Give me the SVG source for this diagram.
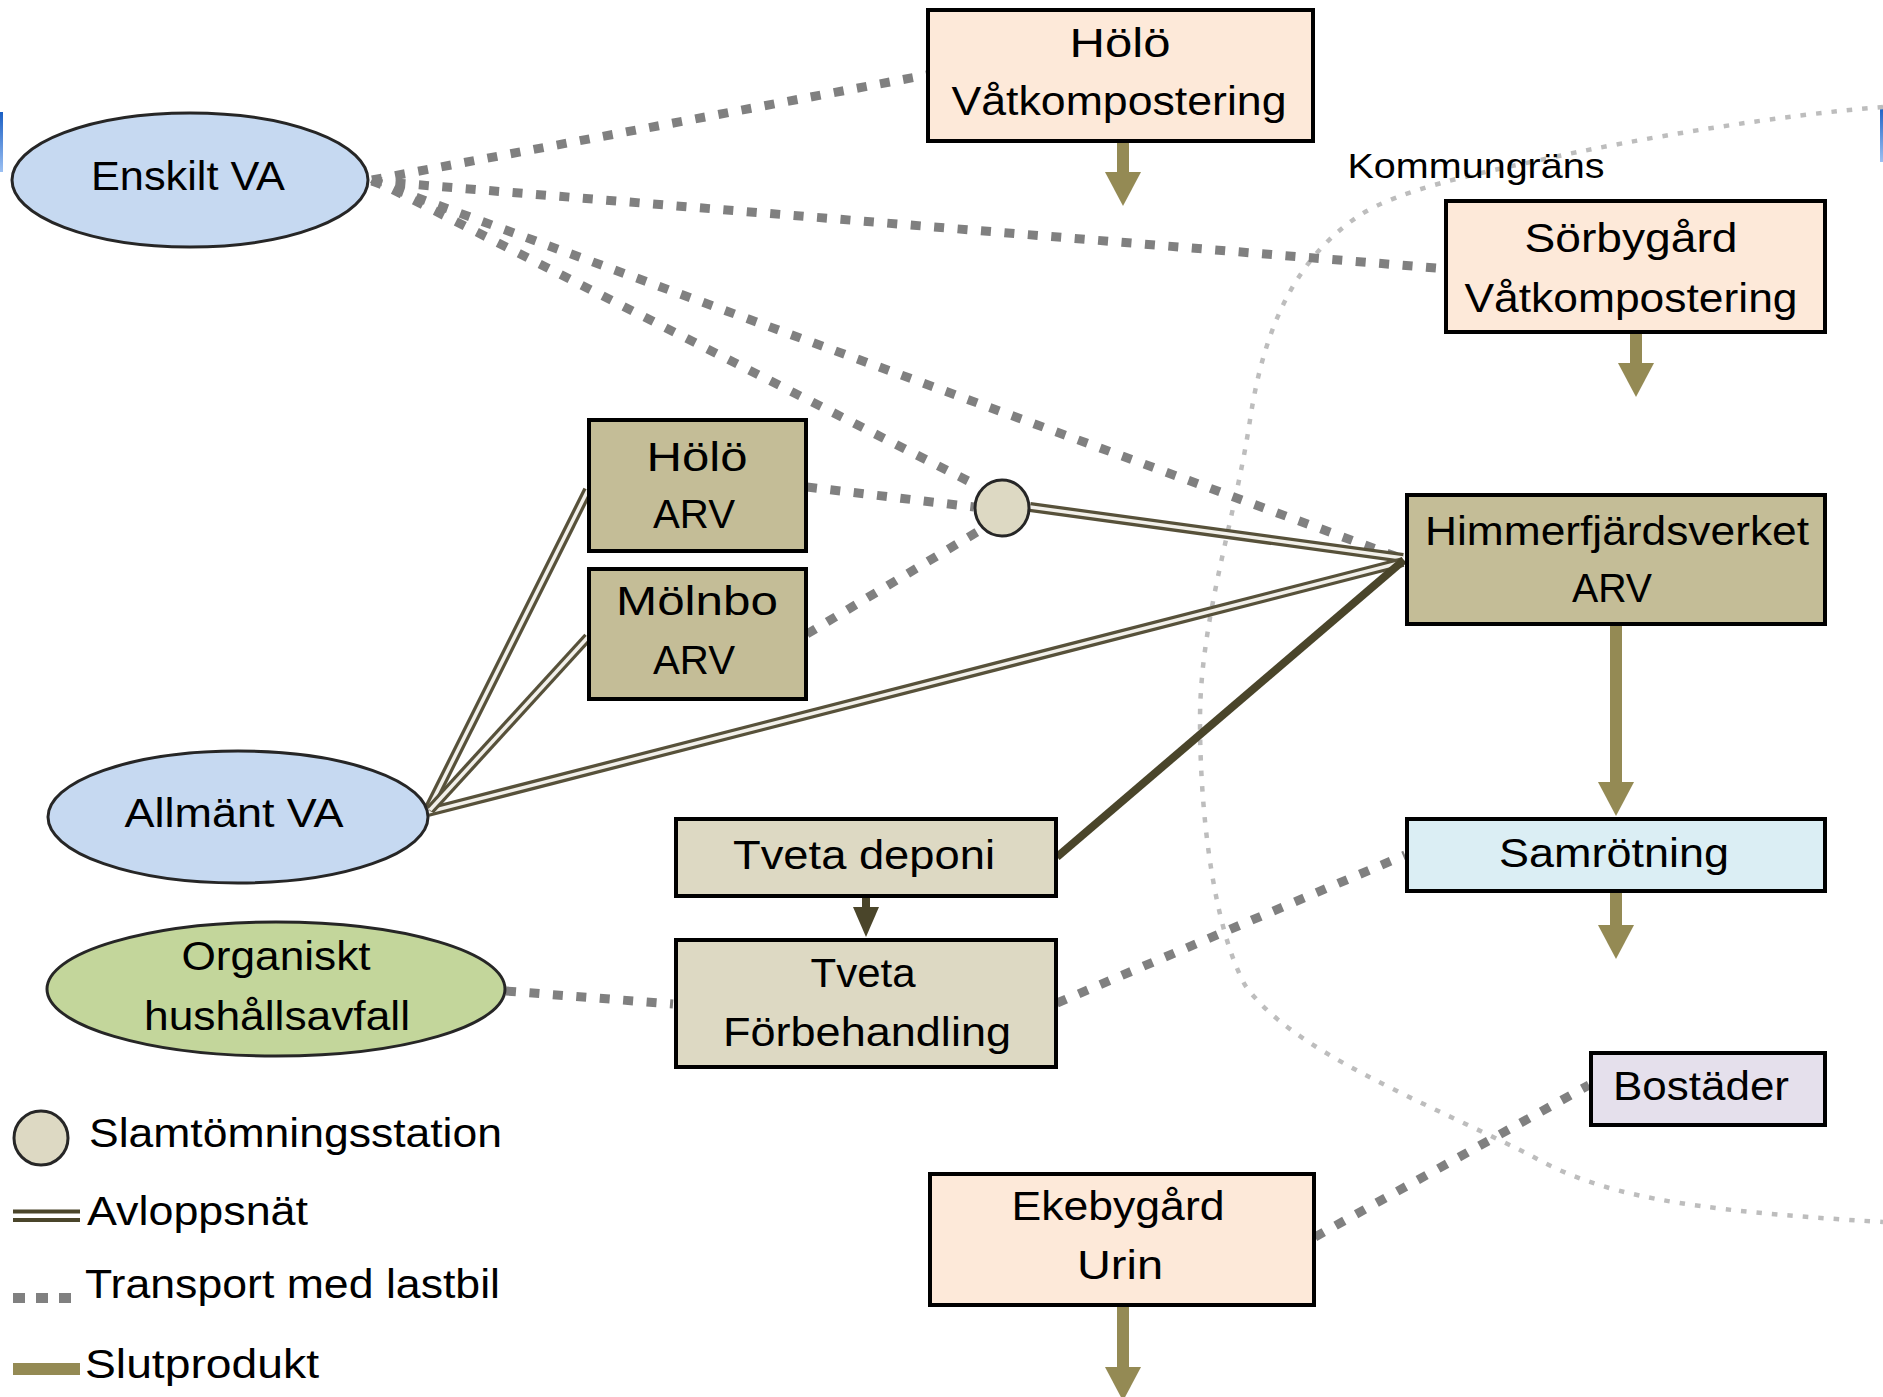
<svg xmlns="http://www.w3.org/2000/svg" width="1883" height="1397" viewBox="0 0 1883 1397">
<defs>
<style>
.box{stroke:#000;stroke-width:4}
.ell{stroke:#262626;stroke-width:3}
.t{font-family:"Liberation Sans",Arial,sans-serif;font-size:40px;fill:#000;text-anchor:middle}
.lg{font-family:"Liberation Sans",Arial,sans-serif;font-size:40px;fill:#000;text-anchor:start}
.truck{fill:none;stroke:#808080;stroke-width:9;stroke-dasharray:10 13.5}
.po{fill:none;stroke:#57513a;stroke-width:10}
.pi{fill:none;stroke:#f2f0ea;stroke-width:3.5}
.prod{stroke:#948a54;stroke-width:12;marker-end:url(#olive)}
.peach{fill:#fde9d9}
.arv{fill:#c4bd97}
.tveta{fill:#ddd9c3}
</style>
<marker id="olive" markerUnits="userSpaceOnUse" viewBox="0 0 34 36" markerWidth="34" markerHeight="36" refX="0" refY="18" orient="auto">
<path d="M0,0 L34,18 L0,36 z" fill="#948a54"/>
</marker>
<marker id="dark" markerUnits="userSpaceOnUse" viewBox="0 0 30 26" markerWidth="30" markerHeight="26" refX="0" refY="13" orient="auto">
<path d="M0,0 L30,13 L0,26 z" fill="#4a452a"/>
</marker>
<linearGradient id="blue" x1="0" y1="0" x2="0" y2="1">
<stop offset="0" stop-color="#1a5fc4"/>
<stop offset="1" stop-color="#9cc0f2"/>
</linearGradient>
</defs>
<rect width="1883" height="1397" fill="#fff"/>
<rect x="0" y="112" width="3" height="60" fill="url(#blue)"/>
<rect x="1880" y="106" width="3" height="56" fill="url(#blue)"/>

<g id="kommungrans">
<path d="M1883,107 C1780,115 1640,138 1540,160 C1470,175 1400,190 1360,215 C1300,255 1265,320 1250,420 C1235,520 1200,620 1200,720 C1200,820 1215,930 1245,985 C1290,1050 1420,1100 1530,1155 C1600,1195 1680,1210 1883,1222" fill="none" stroke="#bdbdbd" stroke-width="4.5" stroke-dasharray="5.5 10"/>
<text x="1476" y="178" class="t" style="font-size:35px" textLength="257" lengthAdjust="spacingAndGlyphs">Kommungräns</text>
</g>

<g id="connectors">
<line class="truck" x1="372" y1="180" x2="927" y2="75"/>
<line class="truck" x1="372" y1="181" x2="1436" y2="268"/>
<line class="truck" x1="372" y1="181" x2="1403" y2="559"/>
<line class="truck" x1="372" y1="179" x2="980" y2="487"/>
<line class="truck" x1="807" y1="487" x2="974" y2="507"/>
<line class="truck" x1="807" y1="634" x2="982" y2="529"/>
<line class="truck" x1="506" y1="991" x2="673" y2="1004"/>
<line class="truck" x1="1057" y1="1003" x2="1405" y2="855"/>
<line class="truck" x1="1315" y1="1237" x2="1589" y2="1085"/>

<line class="po" x1="1030" y1="507" x2="1403" y2="558"/>
<line class="pi" x1="1030" y1="507" x2="1403" y2="558"/>
<line class="po" x1="428" y1="812" x2="1403" y2="562"/>
<line class="pi" x1="428" y1="812" x2="1403" y2="562"/>
<line class="po" x1="428" y1="810" x2="588" y2="490"/>
<line class="pi" x1="428" y1="810" x2="588" y2="490"/>
<line class="po" x1="430" y1="810" x2="588" y2="637"/>
<line class="pi" x1="430" y1="810" x2="588" y2="637"/>

<line x1="1057" y1="857" x2="1404" y2="560" stroke="#4a452a" stroke-width="8"/>
<line x1="866" y1="897" x2="866" y2="907" stroke="#4a452a" stroke-width="8" marker-end="url(#dark)"/>

<line class="prod" x1="1123" y1="142" x2="1123" y2="172"/>
<line class="prod" x1="1636" y1="333" x2="1636" y2="363"/>
<line class="prod" x1="1616" y1="626" x2="1616" y2="782"/>
<line class="prod" x1="1616" y1="891" x2="1616" y2="925"/>
<line class="prod" x1="1123" y1="1306" x2="1123" y2="1367"/>
</g>

<g id="node-holo-vatkomp">
<rect class="box peach" x="928" y="10" width="385" height="131"/>
<text class="t" x="1120" y="57" textLength="101" lengthAdjust="spacingAndGlyphs">Hölö</text>
<text class="t" x="1119" y="115" textLength="335" lengthAdjust="spacingAndGlyphs">Våtkompostering</text>
</g>
<g id="node-sorbygard">
<rect class="box peach" x="1446" y="201" width="379" height="131"/>
<text class="t" x="1631" y="252" textLength="213" lengthAdjust="spacingAndGlyphs">Sörbygård</text>
<text class="t" x="1631" y="312" textLength="333" lengthAdjust="spacingAndGlyphs">Våtkompostering</text>
</g>
<g id="node-enskilt">
<ellipse class="ell" cx="190" cy="180" rx="178" ry="67" fill="#c6d9f1"/>
<text class="t" x="188" y="190" textLength="194" lengthAdjust="spacingAndGlyphs">Enskilt VA</text>
</g>
<g id="node-holo-arv">
<rect class="box arv" x="589" y="420" width="217" height="131"/>
<text class="t" x="697" y="471" textLength="101" lengthAdjust="spacingAndGlyphs">Hölö</text>
<text class="t" x="694" y="528" textLength="82" lengthAdjust="spacingAndGlyphs">ARV</text>
</g>
<g id="node-molnbo-arv">
<rect class="box arv" x="589" y="569" width="217" height="130"/>
<text class="t" x="697" y="615" textLength="162" lengthAdjust="spacingAndGlyphs">Mölnbo</text>
<text class="t" x="694" y="674" textLength="82" lengthAdjust="spacingAndGlyphs">ARV</text>
</g>
<g id="node-slamstation">
<ellipse class="ell" cx="1002" cy="508" rx="27" ry="28" fill="#ddd9c3"/>
</g>
<g id="node-himmerfjard">
<rect class="box arv" x="1407" y="495" width="418" height="129"/>
<text class="t" x="1617" y="545" textLength="384" lengthAdjust="spacingAndGlyphs">Himmerfjärdsverket</text>
<text class="t" x="1612" y="602" textLength="80" lengthAdjust="spacingAndGlyphs">ARV</text>
</g>
<g id="node-allmant">
<ellipse class="ell" cx="238" cy="817" rx="190" ry="66" fill="#c6d9f1"/>
<text class="t" x="234" y="827" textLength="219" lengthAdjust="spacingAndGlyphs">Allmänt VA</text>
</g>
<g id="node-tveta-deponi">
<rect class="box tveta" x="676" y="819" width="380" height="77"/>
<text class="t" x="864" y="869" textLength="262" lengthAdjust="spacingAndGlyphs">Tveta deponi</text>
</g>
<g id="node-samrotning">
<rect class="box" x="1407" y="819" width="418" height="72" fill="#dbeef4"/>
<text class="t" x="1614" y="867" textLength="230" lengthAdjust="spacingAndGlyphs">Samrötning</text>
</g>
<g id="node-organiskt">
<ellipse class="ell" cx="276" cy="989" rx="229" ry="67" fill="#c3d69b"/>
<text class="t" x="276" y="970" textLength="189" lengthAdjust="spacingAndGlyphs">Organiskt</text>
<text class="t" x="277" y="1030" textLength="266" lengthAdjust="spacingAndGlyphs">hushållsavfall</text>
</g>
<g id="node-tveta-forbehandling">
<rect class="box tveta" x="676" y="940" width="380" height="127"/>
<text class="t" x="863" y="987" textLength="105" lengthAdjust="spacingAndGlyphs">Tveta</text>
<text class="t" x="867" y="1046" textLength="288" lengthAdjust="spacingAndGlyphs">Förbehandling</text>
</g>
<g id="node-bostader">
<rect class="box" x="1591" y="1053" width="234" height="72" fill="#e5e0ec"/>
<text class="t" x="1701" y="1100" textLength="176" lengthAdjust="spacingAndGlyphs">Bostäder</text>
</g>
<g id="node-ekebygard">
<rect class="box peach" x="930" y="1174" width="384" height="131"/>
<text class="t" x="1118" y="1220" textLength="213" lengthAdjust="spacingAndGlyphs">Ekebygård</text>
<text class="t" x="1120" y="1279" textLength="86" lengthAdjust="spacingAndGlyphs">Urin</text>
</g>

<g id="legend">
<ellipse class="ell" cx="41" cy="1138" rx="27" ry="27" fill="#ddd9c3"/>
<text class="lg" x="89" y="1147" textLength="413" lengthAdjust="spacingAndGlyphs">Slamtömningsstation</text>
<line x1="13" y1="1211.5" x2="80" y2="1211.5" stroke="#4a452a" stroke-width="4"/>
<line x1="13" y1="1220" x2="80" y2="1220" stroke="#4a452a" stroke-width="4"/>
<text class="lg" x="87" y="1225" textLength="221" lengthAdjust="spacingAndGlyphs">Avloppsnät</text>
<line x1="13" y1="1298" x2="75" y2="1298" stroke="#808080" stroke-width="10" stroke-dasharray="12 11"/>
<text class="lg" x="85" y="1298" textLength="415" lengthAdjust="spacingAndGlyphs">Transport med lastbil</text>
<line x1="13" y1="1369" x2="80" y2="1369" stroke="#948a54" stroke-width="12"/>
<text class="lg" x="85" y="1378" textLength="234" lengthAdjust="spacingAndGlyphs">Slutprodukt</text>
</g>
</svg>
